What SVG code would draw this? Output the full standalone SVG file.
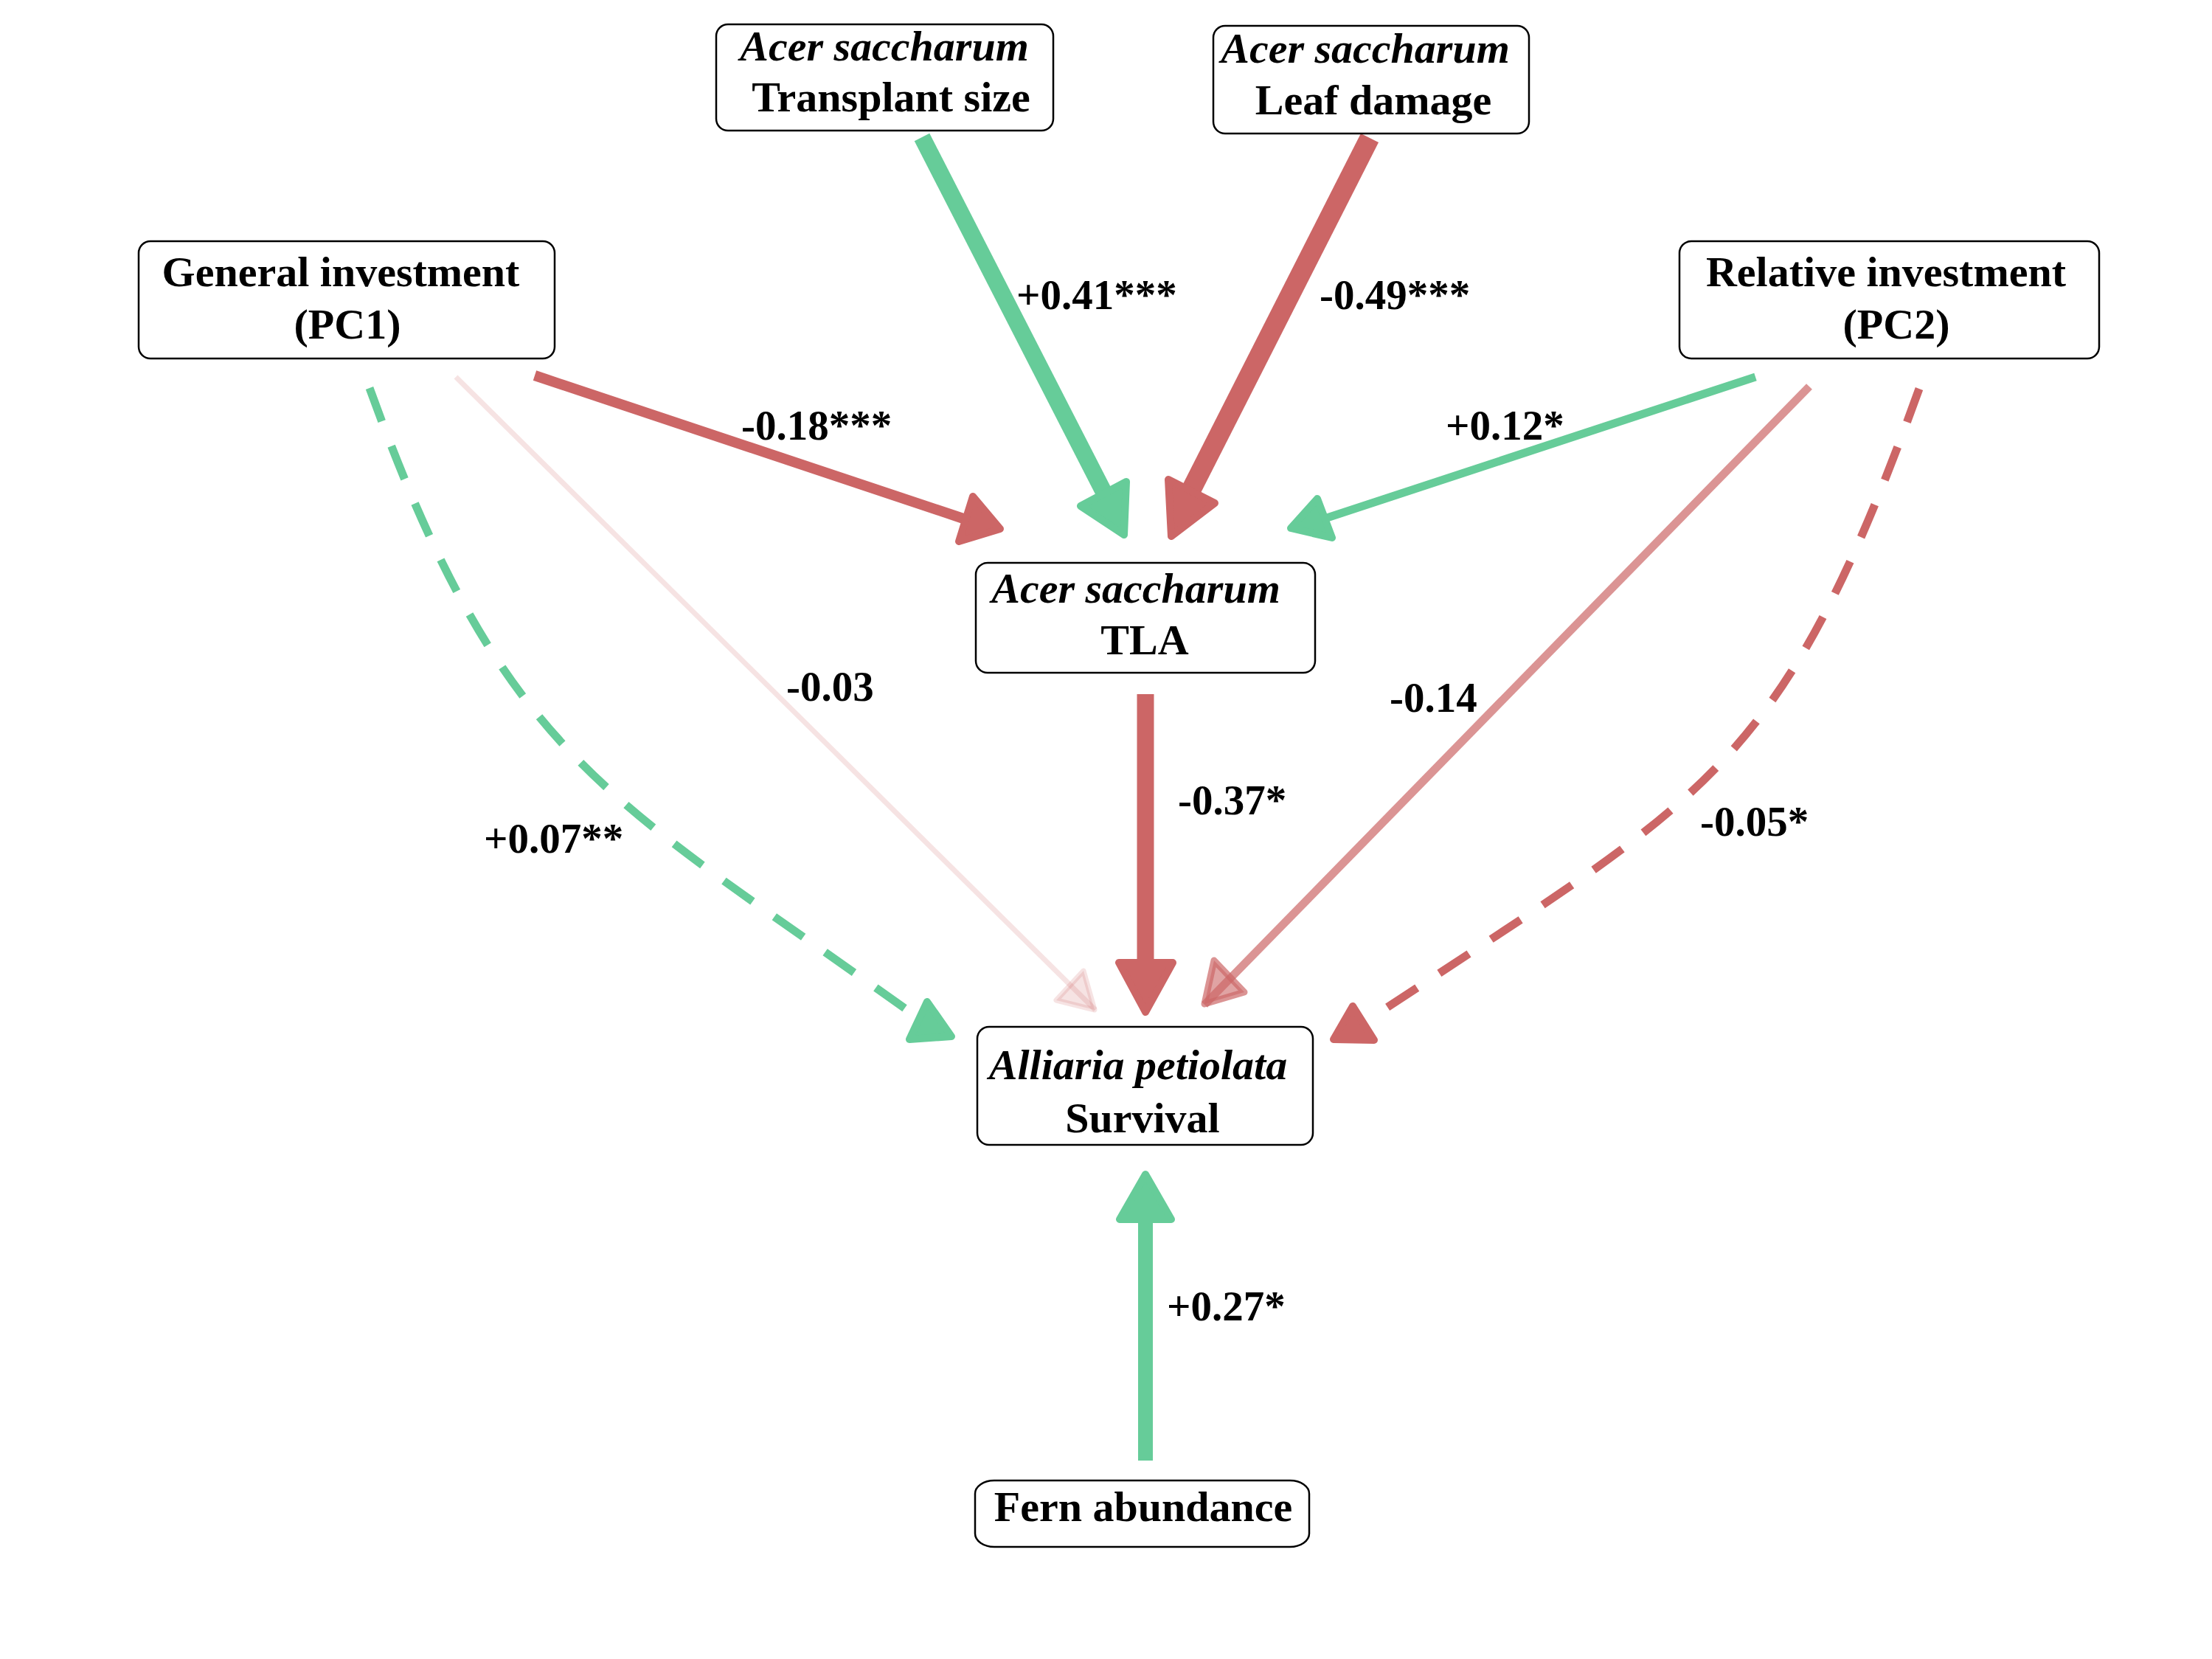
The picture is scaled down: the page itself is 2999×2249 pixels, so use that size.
<svg xmlns="http://www.w3.org/2000/svg" width="2999" height="2249" viewBox="0 0 2999 2249">
<style>
.box{fill:#fff;stroke:#000;stroke-width:2.5}
.t{font-family:"Liberation Serif","Times New Roman",serif;font-weight:bold;font-size:58px;text-anchor:middle;fill:#000}
.i{font-style:italic}
.lab{font-family:"Liberation Serif","Times New Roman",serif;font-weight:bold;font-size:57px;fill:#000}
.g{stroke:#66CC99;fill:none}
.r{stroke:#CC6666;fill:none}
.hg{fill:#66CC99;stroke:#66CC99;stroke-width:10;stroke-linejoin:round}
.hr{fill:#CC6666;stroke:#CC6666;stroke-width:10;stroke-linejoin:round}
.dash{stroke-width:11;stroke-dasharray:48 36}
</style>
<rect width="2999" height="2249" fill="#fff"/>
<g id="connectors">
  <!-- Transplant -> TLA -->
  <line class="g" x1="1250" y1="186" x2="1498" y2="670" stroke-width="23"/>
  <polygon class="hg" points="1527,653 1465,686 1524,725"/>
  <!-- Leaf -> TLA -->
  <line class="r" x1="1857" y1="187" x2="1614" y2="666" stroke-width="27"/>
  <polygon class="hr" points="1584,650 1647,682 1588,727"/>
  <!-- General -> TLA -->
  <line class="r" x1="725" y1="509" x2="1309" y2="704" stroke-width="14"/>
  <polygon class="hr" points="1319,673 1300,734 1356,717"/>
  <!-- Relative -> TLA -->
  <line class="g" x1="2380" y1="511" x2="1796" y2="703" stroke-width="11"/>
  <polygon class="hg" points="1786,676 1750,716 1806,729"/>
  <!-- General -> Survival (-0.03) -->
  <line x1="618" y1="511" x2="1485" y2="1369" stroke="#CC6666" stroke-opacity="0.18" stroke-width="7"/>
  <polygon points="1469,1316 1432,1356 1484,1369" fill="#CC6666" fill-opacity="0.18" stroke="#CC6666" stroke-opacity="0.18" stroke-width="7" stroke-linejoin="round"/>
  <!-- TLA -> Survival -->
  <line class="r" x1="1553" y1="941" x2="1553" y2="1310" stroke-width="23"/>
  <polygon class="hr" points="1517,1305 1590,1305 1553,1372"/>
  <!-- Relative -> Survival (-0.14) -->
  <line x1="2453" y1="524" x2="1633" y2="1362" stroke="#CC6666" stroke-opacity="0.7" stroke-width="11"/>
  <polygon points="1646,1302 1633,1361 1687,1345" fill="#CC6666" fill-opacity="0.6" stroke="#CC6666" stroke-opacity="0.7" stroke-width="9" stroke-linejoin="round"/>
  <!-- General -> Survival dashed -->
  <path class="g dash" d="M501,526 C685,1034 823,1078 1245,1380"/>
  <polygon class="hg" points="1257,1358 1233,1409 1290,1405" stroke-width="8"/>
  <!-- Relative -> Survival dashed -->
  <path class="r dash" d="M2602,527 C2412,1054 2313,1079 1850,1386"/>
  <polygon class="hr" points="1834,1364 1808,1409 1863,1410" stroke-width="8"/>
  <!-- Fern -> Survival -->
  <line class="g" x1="1553" y1="1980" x2="1553" y2="1650" stroke-width="20"/>
  <polygon class="hg" points="1518,1653 1588,1653 1553,1592"/>
</g>
<g id="labels">
  <text class="lab" x="1378" y="419">+0.41***</text>
  <text class="lab" x="1789" y="419">-0.49***</text>
  <text class="lab" x="1005" y="596">-0.18***</text>
  <text class="lab" x="1960" y="596">+0.12*</text>
  <text class="lab" x="1066" y="950">-0.03</text>
  <text class="lab" x="1884" y="965">-0.14</text>
  <text class="lab" x="1597" y="1104">-0.37*</text>
  <text class="lab" x="656" y="1156">+0.07**</text>
  <text class="lab" x="2305" y="1133">-0.05*</text>
  <text class="lab" x="1582" y="1790">+0.27*</text>
</g>
<g id="node-transplant">
  <rect class="box" x="971" y="33" width="457" height="144" rx="16"/>
  <text class="t i" x="1199" y="82">Acer saccharum</text>
  <text class="t" x="1208" y="151">Transplant size</text>
</g>
<g id="node-leaf">
  <rect class="box" x="1645" y="35" width="428" height="146" rx="16"/>
  <text class="t i" x="1851" y="85">Acer saccharum</text>
  <text class="t" x="1862" y="155">Leaf damage</text>
</g>
<g id="node-general">
  <rect class="box" x="188" y="327" width="564" height="159" rx="16"/>
  <text class="t" x="462" y="388">General investment</text>
  <text class="t" x="471" y="459">(PC1)</text>
</g>
<g id="node-relative">
  <rect class="box" x="2277" y="327" width="569" height="159" rx="16"/>
  <text class="t" x="2557" y="388">Relative investment</text>
  <text class="t" x="2571" y="459">(PC2)</text>
</g>
<g id="node-tla">
  <rect class="box" x="1323" y="763" width="460" height="149" rx="16"/>
  <text class="t i" x="1540" y="817">Acer saccharum</text>
  <text class="t" x="1552" y="887">TLA</text>
</g>
<g id="node-survival">
  <rect class="box" x="1325" y="1392" width="455" height="160" rx="16"/>
  <text class="t i" x="1543" y="1463">Alliaria petiolata</text>
  <text class="t" x="1549" y="1535">Survival</text>
</g>
<g id="node-fern">
  <rect class="box" x="1322" y="2007" width="453" height="90" rx="26" ry="18"/>
  <text class="t" x="1550" y="2062">Fern abundance</text>
</g>
</svg>
